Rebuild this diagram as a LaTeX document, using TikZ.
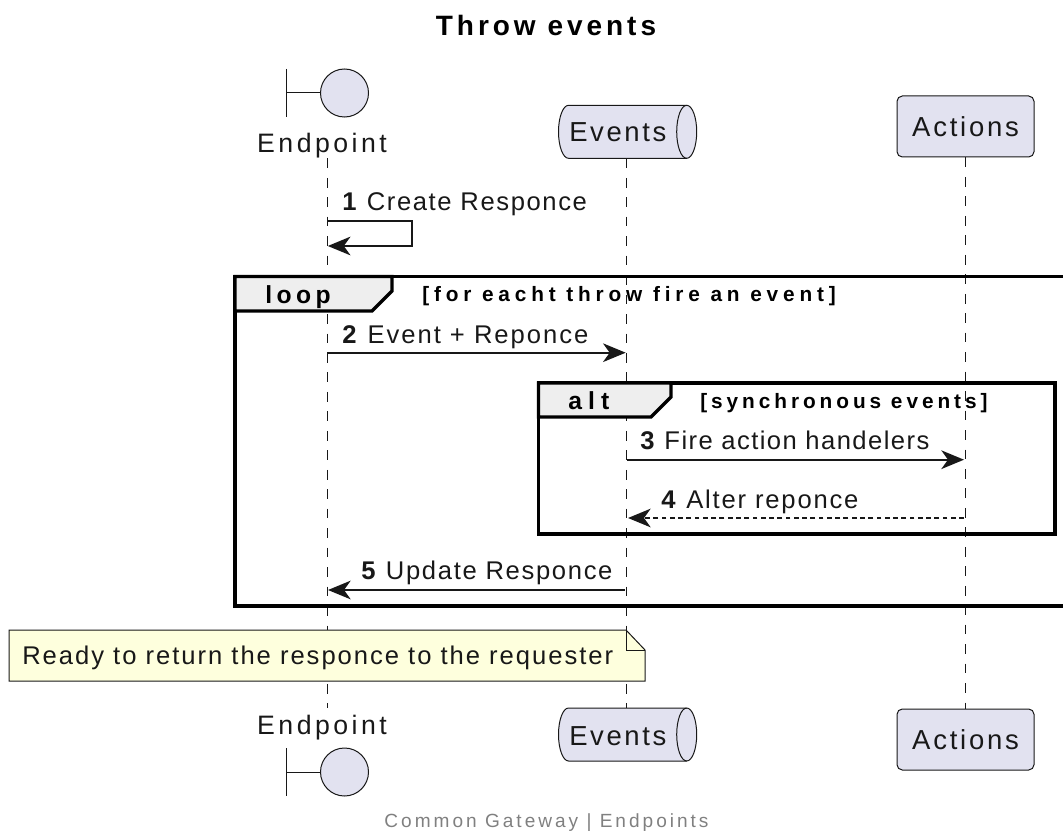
\documentclass[tikz,border=0pt]{standalone}
\usepackage{fontspec}
\usetikzlibrary{arrows.meta}
\setmainfont{Liberation Sans}
\newfontfamily\basefont{Liberation Sans}
\newfontfamily\boldface{Liberation Sans Bold}
\definecolor{ink}{HTML}{181818}
\definecolor{part}{HTML}{E2E2F0}
\definecolor{tabfill}{HTML}{EEEEEE}
\definecolor{notefill}{HTML}{FEFFDD}
\newcommand{\cylshape}[1]{%
  \draw[partline] (568.5,#1) -- (686.7,#1)
    .. controls (692.2,#1) and (696.7,#1+11.9) .. (696.7,#1+26.5)
    .. controls (696.7,#1+41.1) and (692.2,#1+53) .. (686.7,#1+53)
    -- (568.5,#1+53)
    .. controls (563,#1+53) and (558.5,#1+41.1) .. (558.5,#1+26.5)
    .. controls (558.5,#1+11.9) and (563,#1) .. (568.5,#1) -- cycle;
  \draw[thin line] (686.7,#1)
    .. controls (681.2,#1) and (676.7,#1+11.9) .. (676.7,#1+26.5)
    .. controls (676.7,#1+41.1) and (681.2,#1+53) .. (686.7,#1+53);
}
\tikzset{
  x=0.75pt,y=-0.75pt,
  partline/.style={draw=ink,line width=0.75pt,fill=part},
  thin line/.style={draw=ink,line width=0.75pt},
  lifeline/.style={draw=ink,line width=0.75pt,dash pattern=on 7.3pt off 7.3pt},
  framebox/.style={draw=black,line width=2.5pt},
  tabbox/.style={draw=black,line width=2.5pt,fill=tabfill,line join=miter},
  message/.style={draw=ink,line width=1.4pt,-{Stealth[length=17pt,width=14pt,inset=5pt,color=ink]}},
  actorlabel/.style={inner sep=0pt,text=ink,font={\fontsize{20}{24}\basefont\addfontfeature{LetterSpace=#1}}},
  boxlabel/.style={inner sep=0pt,text=ink,font={\fontsize{20.6}{24}\basefont\addfontfeature{LetterSpace=#1}}},
  msglabel/.style={inner sep=0pt,anchor=base west,text=ink,font={\fontsize{19.2}{22}\basefont\addfontfeature{LetterSpace=#1}}},
  framelabel/.style={inner sep=0pt,anchor=base west,text=black,font={\fontsize{18.5}{22}\boldface\addfontfeature{LetterSpace=#1}}},
  guardlabel/.style={inner sep=0pt,anchor=base west,text=black,font={\fontsize{15.6}{20}\boldface\addfontfeature{LetterSpace=#1}}},
  actorbox/.style={partline,rounded corners=4pt,minimum width=102.75pt,minimum height=45.75pt,inner sep=0pt},
}
\begin{document}
\begin{tikzpicture}
\useasboundingbox (0,0) rectangle (1063,831);
\clip (0,0) rectangle (1063,831);

% title
\node[inner sep=0pt,anchor=base,text=black,font={\fontsize{21}{25}\boldface\addfontfeature{LetterSpace=14.2}}] (title) at (546,35.5) {Throw events};

% lifelines
\coordinate (etopL) at (327.2,158.3);
\coordinate (ebotL) at (327.2,708);
\coordinate (evtopL) at (626.6,158.3);
\coordinate (evbotL) at (626.6,708);
\coordinate (actopL) at (965.7,157.5);
\coordinate (acbotL) at (965.7,709);
\draw[lifeline] (etopL) -- (ebotL);
\draw[lifeline] (evtopL) -- (evbotL);
\draw[lifeline] (actopL) -- (acbotL);

% endpoint top
\node[circle,partline,minimum size=36pt,inner sep=0pt] (epcT) at (344.5,93) {};
\coordinate (epbT) at (286,93);
\draw[thin line] (epbT) -- (epcT.west);
\draw[thin line] (286,69) -- (286,117);
\node[actorlabel=13,anchor=base] (eplT) at (322,152.5) {Endpoint};

% events top
\cylshape{105.3}
\node[boxlabel=9.5,anchor=base west] (evlT) at (569,142) {Events};

% actions top
\node[actorbox,boxlabel=10] (acT) at (965.5,126.5) {Actions};

% message 1
\coordinate (m1a) at (327,220.7);
\coordinate (m1b) at (327.8,246);
\draw[message] (m1a) -- (412,220.7) -- (412,246) -- (m1b);
\node[msglabel=6.3] (m1t) at (342,210) {\textbf{1} Create Responce};

% loop frame
\draw[framebox] (1070,276.5) -- (235,276.5) -- (235,606) -- (1070,606);
\draw[tabbox] (235,276.5) -- (392,276.5) -- (392,291) -- (372,311) -- (235,311) -- cycle;
\node[framelabel=18] (loopl) at (265,303) {loop};
\node[guardlabel=23.3] (loopg) at (422,301) {[for eacht throw fire an event]};

% message 2
\coordinate (m2a) at (327,352.7);
\coordinate (m2b) at (625.7,352.7);
\draw[message] (m2a) -- (m2b);
\node[msglabel=7.7] (m2t) at (342,343) {\textbf{2} Event + Reponce};

% alt frame
\draw[framebox] (538.5,383) rectangle (1055,534);
\draw[tabbox] (538.5,383) -- (671,383) -- (671,397) -- (651,417) -- (538.5,417) -- cycle;
\node[framelabel=25] (altl) at (568,409) {alt};
\node[guardlabel=19] (altg) at (700,408) {[synchronous events]};

% message 3
\coordinate (m3a) at (627,459.7);
\coordinate (m3b) at (964,459.7);
\draw[message] (m3a) -- (m3b);
\node[msglabel=5.6] (m3t) at (640,449.5) {\textbf{3} Fire action handelers};

% message 4
\coordinate (m4a) at (964,518);
\coordinate (m4b) at (628,518);
\draw[message,dash pattern=on 3.6pt off 2.6pt] (m4a) -- (m4b);
\node[msglabel=7.1] (m4t) at (661,508) {\textbf{4} Alter reponce};

% message 5
\coordinate (m5a) at (625,590);
\coordinate (m5b) at (328,590);
\draw[message] (m5a) -- (m5b);
\node[msglabel=6.5] (m5t) at (361,579) {\textbf{5} Update Responce};

% note
\draw[draw=ink,line width=0.75pt,fill=notefill] (9,630) -- (626,630) -- (645,650) -- (645,681) -- (9,681) -- cycle;
\draw[thin line] (626,630) -- (626,650) -- (645,650);
\node[msglabel=7.7] (notet) at (22,664) {Ready to return the responce to the requester};

% endpoint bottom
\node[actorlabel=13,anchor=base] (eplB) at (322,734) {Endpoint};
\node[circle,partline,minimum size=36pt,inner sep=0pt] (epcB) at (344.5,772) {};
\coordinate (epbB) at (286,772);
\draw[thin line] (epbB) -- (epcB.west);
\draw[thin line] (286,748) -- (286,796);

% events bottom
\cylshape{708}
\node[boxlabel=9.5,anchor=base west] (evlB) at (569,745) {Events};

% actions bottom
\node[actorbox,boxlabel=10] (acB) at (965.5,739.5) {Actions};

% footer
\node[inner sep=0pt,anchor=base,text=black!50,font={\fontsize{14.3}{18}\basefont\addfontfeature{LetterSpace=15.7}}] (foot) at (546.5,827) {Common Gateway | Endpoints};
\end{tikzpicture}
\end{document}
